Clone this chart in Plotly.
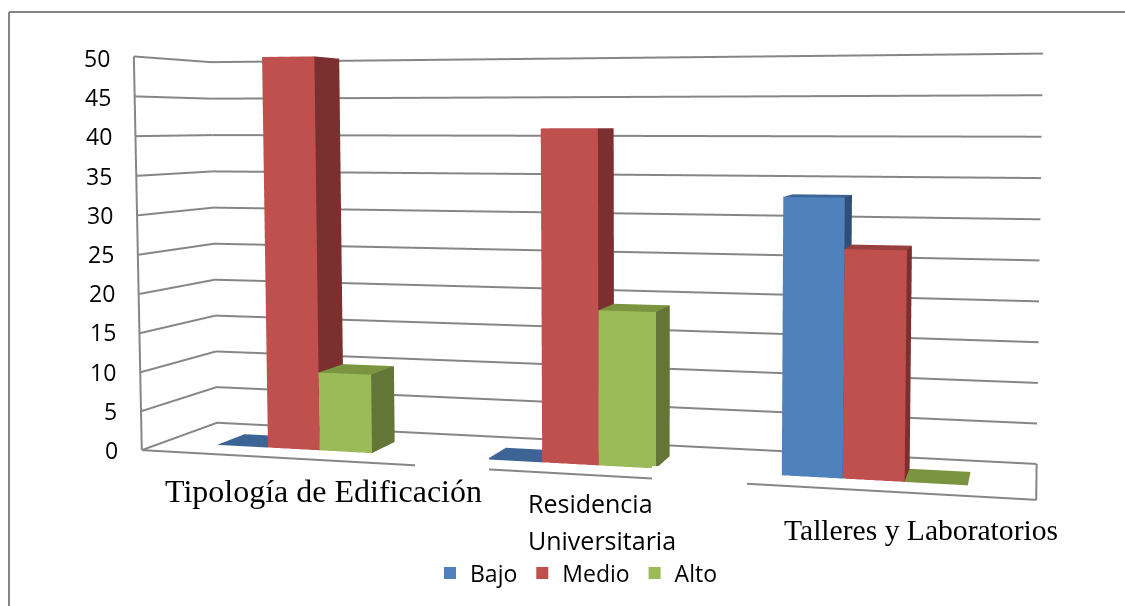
import plotly.graph_objects as go

categorias = ['Tipología de Edificación', 'Residencia<br>Universitaria', 'Talleres y Laboratorios']
series = ['Bajo', 'Medio', 'Alto']
bajo = [0, 0, 33]
medio = [50, 41, 27]
alto = [10, 19, 0]
ticks_z = [0, 5, 10, 15, 20, 25, 30, 35, 40, 45, 50]

# front, side and top colour of each series
colores = {
    'Bajo': ('#4F81BD', '#2F4F77', '#3C6494'),
    'Medio': ('#C0504D', '#7B2F2E', '#98403D'),
    'Alto': ('#9BBB59', '#637537', '#7A943F'),
}
GRIS = '#868686'

ANCHO = 0.195  # bar width in category units
FONDO = (0.28, 0.66)  # bar depth inside the floor

# The gl3d field of view is fixed, so the original's long lens needs a big canvas.
# The figure is larger than the window and shifted up, the window crops it.
FIG_W, FIG_H = 1300, 1306
DESPLAZA_Y = 432


def px(x):
    return x / FIG_W


def py(y):
    return 1 - (y + DESPLAZA_Y) / FIG_H


def barra(x0, x1, y0, y1, alto_barra, nombre):
    frente, lado, arriba = colores[nombre]
    xs = [x0, x1, x1, x0, x0, x1, x1, x0]
    ys = [y0, y0, y1, y1, y0, y0, y1, y1]
    zs = [0, 0, 0, 0, alto_barra, alto_barra, alto_barra, alto_barra]
    caras = [
        (0, 1, 5, frente), (0, 5, 4, frente),
        (1, 2, 6, lado), (1, 6, 5, lado),
        (4, 5, 6, arriba), (4, 6, 7, arriba),
    ]
    return go.Mesh3d(
        x=xs, y=ys, z=zs,
        i=[c[0] for c in caras], j=[c[1] for c in caras], k=[c[2] for c in caras],
        facecolor=[c[3] for c in caras],
        flatshading=True,
        lighting=dict(ambient=1, diffuse=0, specular=0, fresnel=0),
        hoverinfo='skip',
        showlegend=False,
    )


def linea(xs, ys, zs):
    return go.Scatter3d(x=xs, y=ys, z=zs, mode='lines', line=dict(color=GRIS, width=4),
                        hoverinfo='skip', showlegend=False)


fig = go.Figure()

# walls: the gridlines run along the left wall and the back wall
for t in ticks_z:
    fig.add_trace(linea([0, 0, 3], [0, 1, 1], [t, t, t]))
fig.add_trace(linea([0, 0], [0, 0], [0, ticks_z[-1]]))
fig.add_trace(linea([0, 3, 3], [0, 0, 1], [0, 0, 0]))

for s, valores in enumerate([bajo, medio, alto]):
    for c, v in enumerate(valores):
        x0 = c + 0.5 + (s - 1.5) * ANCHO
        fig.add_trace(barra(x0, x0 + ANCHO, FONDO[0], FONDO[1], v, series[s]))

# legend entries
for nombre in series:
    fig.add_trace(go.Scatter3d(
        x=[None], y=[None], z=[None], mode='markers', name=nombre,
        marker=dict(symbol='square', size=15, color=colores[nombre][0]),
    ))

eje = dict(showbackground=False, showspikes=False, title='', zeroline=False, showgrid=False,
           showline=False, showticklabels=False, ticks='')

anotaciones = []
# gl3d tick labels cannot be moved away from the wall, so they go on as annotations
for t in ticks_z:
    anotaciones.append(dict(text=str(t), xref='paper', yref='paper', x=px(120 - t * 0.16), y=py(450 - t * 7.84),
                            showarrow=False, xanchor='right', yanchor='middle',
                            font=dict(family='Open Sans', size=23)))
for texto, x, y, tam in [(categorias[0], 323, 491, 32), (categorias[2], 921, 530, 29.6)]:
    anotaciones.append(dict(text=texto, xref='paper', yref='paper', x=px(x), y=py(y), showarrow=False,
                            xanchor='center', yanchor='middle',
                            font=dict(family='Liberation Serif', size=tam)))
for texto, y in zip(categorias[1].split('<br>'), [503, 540]):
    anotaciones.append(dict(text=texto, xref='paper', yref='paper', x=px(526), y=py(y), showarrow=False,
                            xanchor='left', yanchor='middle',
                            font=dict(family='Open Sans', size=25)))

blancos = [(415, 455, 489, 475), (652, 466, 747, 492)]  # the pasted labels hide parts of the floor line
formas = [
    dict(type='rect', xref='paper', yref='paper', x0=px(a), x1=px(c), y0=py(b), y1=py(d),
         fillcolor='white', line=dict(width=0))
    for a, b, c, d in blancos
]
formas += [
    dict(type='line', xref='paper', yref='paper', x0=px(9), x1=px(1125), y0=py(12), y1=py(12),
         line=dict(color=GRIS, width=2)),
    dict(type='line', xref='paper', yref='paper', x0=px(9), x1=px(9), y0=py(606), y1=py(12),
         line=dict(color=GRIS, width=2)),
]

fig.update_layout(
    width=FIG_W, height=FIG_H,
    margin=dict(l=0, r=0, t=0, b=0),
    paper_bgcolor='white',
    font=dict(family='Open Sans', color='black'),
    scene=dict(
        domain=dict(x=[0, 1], y=[0, 1]),
        aspectmode='manual',
        aspectratio=dict(x=2.217, y=0.38, z=1),
        camera=dict(
            eye=dict(x=1.106, y=-3.741, z=0.332),
            center=dict(x=0.1687, y=0.0475, z=0.0905),
            up=dict(x=0, y=0, z=1),
        ),
        xaxis=dict(eje, range=[0, 3]),
        yaxis=dict(eje, range=[0, 1]),
        zaxis=dict(eje, range=[0, 50], tickvals=ticks_z),
    ),
    legend=dict(orientation='h', x=px(430), y=py(573), xanchor='left', yanchor='middle',
                font=dict(size=23, family='Open Sans'),
                itemsizing='constant', itemclick=False, itemdoubleclick=False,
                bgcolor='rgba(0,0,0,0)'),
    shapes=formas,
    annotations=anotaciones,
)

recorte = ("document.documentElement.style.overflow='hidden';"
           "document.body.style.margin='0';"
           "document.body.style.overflow='hidden';"
           "document.getElementById('{plot_id}').style.marginTop='-%dpx';" % DESPLAZA_Y)
fig.write_html("out.html", post_script=recorte, config=dict(displayModeBar=False))
